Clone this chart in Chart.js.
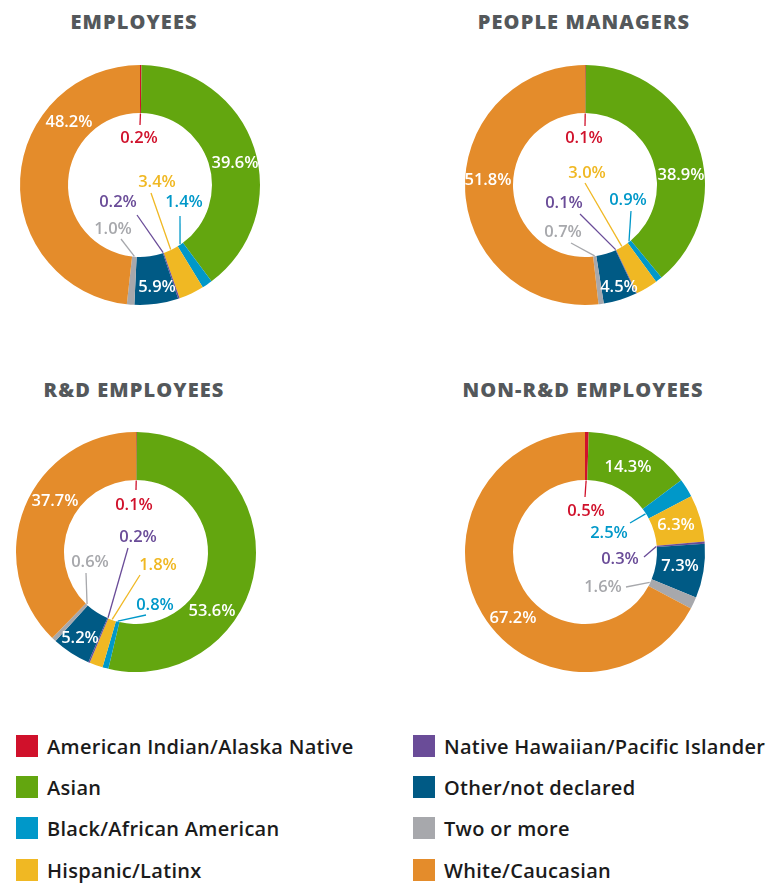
<!DOCTYPE html>
<html><head><meta charset="utf-8">
<script src="https://cdn.jsdelivr.net/npm/chart.js@4.4.0/dist/chart.umd.min.js"></script>
<style>
html,body{margin:0;padding:0;background:#fff;}
body{width:782px;height:883px;position:relative;overflow:hidden;font-family:"Open Sans",sans-serif;}
.title{position:absolute;font-weight:800;font-size:20px;color:#54585b;letter-spacing:1.1px;transform:translate(-50%,-50%);white-space:nowrap;}
.chartBox{position:absolute;width:280px;height:280px;}
.legItem{position:absolute;display:flex;align-items:center;height:24px;transform:translateY(-50%);}
.legItem .sw{width:22px;height:22px;margin-right:9px;flex:none;}
.legItem .tx{font-size:20px;font-weight:600;color:#1b1b1b;white-space:nowrap;letter-spacing:0.3px;}
</style>
</head><body>
<script>
// ---- DATA ----
const categories = ["American Indian/Alaska Native","Asian","Black/African American","Hispanic/Latinx","Native Hawaiian/Pacific Islander","Other/not declared","Two or more","White/Caucasian"];
const chartTitles = ["EMPLOYEES","PEOPLE MANAGERS","R&D EMPLOYEES","NON-R&D EMPLOYEES"];
const employees      = [0.2, 39.6, 1.4, 3.4, 0.2, 5.9, 1.0, 48.2];
const peopleManagers = [0.1, 38.9, 0.9, 3.0, 0.1, 4.5, 0.7, 51.8];
const rdEmployees    = [0.1, 53.6, 0.8, 1.8, 0.2, 5.2, 0.6, 37.7];
const nonRdEmployees = [0.5, 14.3, 2.5, 6.3, 0.3, 7.3, 1.6, 67.2];

// ---- STYLE / LAYOUT ----
const colors = ["#d0112b","#63a60f","#0098c9","#f0b823","#6a4c98","#005a85","#a7a8ac","#e48c2b"];
const seriesList = [employees, peopleManagers, rdEmployees, nonRdEmployees];
const centers = [[140,185],[585,185],[136,552],[585,552]];
const titlePos = [[134,21],[584,21],[134,389],[583,389]];
// label placement relative to chart centre: ring labels (white) or inner labels with leader line start
const labelLayouts = [
  [ {t:'in',dx:-1,dy:-47,lx:0,ly:-60}, {t:'ring',dx:95,dy:-22}, {t:'in',dx:44,dy:17,lx:40,ly:31}, {t:'in',dx:17,dy:-3,lx:11,ly:8},
    {t:'in',dx:-22,dy:17,lx:-3,ly:30}, {t:'ring',dx:17,dy:102}, {t:'in',dx:-27,dy:44,lx:-19,ly:54}, {t:'ring',dx:-71,dy:-63} ],
  [ {t:'in',dx:-1,dy:-47,lx:0,ly:-59}, {t:'ring',dx:96,dy:-10}, {t:'in',dx:43,dy:15,lx:46,ly:26}, {t:'in',dx:2,dy:-12,lx:0,ly:-2},
    {t:'in',dx:-21,dy:18,lx:-5,ly:29}, {t:'ring',dx:34,dy:102}, {t:'in',dx:-22,dy:47,lx:-14,ly:58}, {t:'ring',dx:-97,dy:-5} ],
  [ {t:'in',dx:-2,dy:-47,lx:0,ly:-62}, {t:'ring',dx:76,dy:59}, {t:'in',dx:19,dy:53,lx:10,ly:63}, {t:'in',dx:22,dy:13,lx:4,ly:23},
    {t:'in',dx:2,dy:-15,lx:-8,ly:-4}, {t:'ring',dx:-56,dy:86}, {t:'in',dx:-46,dy:10,lx:-50,ly:21}, {t:'ring',dx:-81,dy:-51} ],
  [ {t:'in',dx:1,dy:-41,lx:0,ly:-55}, {t:'ring',dx:43,dy:-85}, {t:'in',dx:24,dy:-19,lx:45,ly:-29}, {t:'ring',dx:91,dy:-27},
    {t:'in',dx:35,dy:7,lx:59,ly:5}, {t:'ring',dx:95,dy:14}, {t:'in',dx:18,dy:35,lx:41,ly:35}, {t:'ring',dx:-72,dy:66} ]
];
const labelFont = '600 16.5px "Open Sans", sans-serif';

const labelPlugin = {
  id:'sliceLabels',
  afterDatasetsDraw(chart){
    const layout = chart.options.plugins.sliceLabels.layout;
    const ctx = chart.ctx;
    const meta = chart.getDatasetMeta(0);
    const vals = chart.data.datasets[0].data;
    ctx.save();
    ctx.font = labelFont;
    ctx.textAlign = 'center';
    ctx.textBaseline = 'middle';
    meta.data.forEach((arc,i)=>{
      const p = arc.getProps(['x','y','startAngle','endAngle','innerRadius','outerRadius'], true);
      const L = layout[i];
      const txt = vals[i].toFixed(1) + '%';
      if(L.t==='ring'){
        ctx.fillStyle = '#ffffff';
        ctx.fillText(txt, p.x+L.dx, p.y+L.dy);
      } else {
        const mid = (p.startAngle+p.endAngle)/2;
        const ex = p.x + Math.cos(mid)*(p.innerRadius-0.5);
        const ey = p.y + Math.sin(mid)*(p.innerRadius-0.5);
        ctx.strokeStyle = colors[i];
        ctx.lineWidth = 1.3;
        ctx.beginPath();
        ctx.moveTo(p.x+L.lx, p.y+L.ly);
        ctx.lineTo(ex, ey);
        ctx.stroke();
        ctx.fillStyle = colors[i];
        ctx.fillText(txt, p.x+L.dx, p.y+L.dy);
      }
    });
    ctx.restore();
  }
};

seriesList.forEach((vals,k)=>{
  const t = document.createElement('div');
  t.className='title'; t.textContent = chartTitles[k];
  t.style.left = titlePos[k][0]+'px'; t.style.top = titlePos[k][1]+'px';
  document.body.appendChild(t);
  const box = document.createElement('div');
  box.className='chartBox';
  box.style.left = (centers[k][0]-140)+'px'; box.style.top = (centers[k][1]-140)+'px';
  const cv = document.createElement('canvas');
  box.appendChild(cv);
  document.body.appendChild(box);
  new Chart(cv, {
    type:'doughnut',
    data:{ labels:categories, datasets:[{ data:vals, backgroundColor:colors, borderWidth:0 }] },
    options:{
      responsive:true, maintainAspectRatio:false, animation:false,
      cutout:'60%',
      layout:{padding:20},
      plugins:{ legend:{display:false}, tooltip:{enabled:false}, sliceLabels:{layout:labelLayouts[k]} }
    },
    plugins:[labelPlugin]
  });
});

// legend
const legX = [16, 413];
const legY = [746, 787, 828, 870];
categories.forEach((c,i)=>{
  const d = document.createElement('div');
  d.className='legItem';
  d.style.left = legX[Math.floor(i/4)]+'px';
  d.style.top = legY[i%4]+'px';
  d.innerHTML = '<span class="sw" style="background:'+colors[i]+'"></span><span class="tx"></span>';
  d.querySelector('.tx').textContent = c;
  document.body.appendChild(d);
});
</script>
</body></html>
